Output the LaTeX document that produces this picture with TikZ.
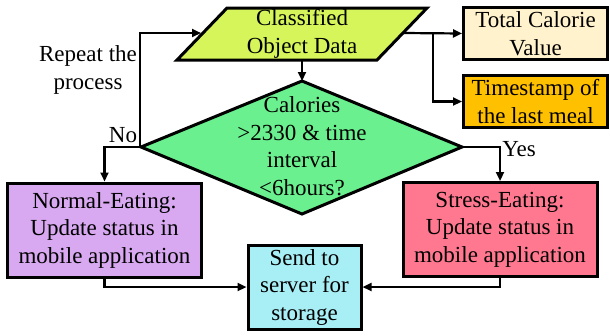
\documentclass[tikz,border=0pt]{standalone}
\usepackage{fontspec}
\setmainfont{Liberation Serif}
\usetikzlibrary{arrows.meta}
\definecolor{cLime}{RGB}{213,245,90}
\definecolor{cCream}{RGB}{255,242,204}
\definecolor{cOrange}{RGB}{255,192,0}
\definecolor{cGreen}{RGB}{106,240,142}
\definecolor{cLav}{RGB}{216,168,240}
\definecolor{cPink}{RGB}{255,120,144}
\definecolor{cCyan}{RGB}{168,238,245}
\tikzset{
  txt/.style={font=\fontsize{23}{27.5}\selectfont, align=center, inner sep=0pt},
  box/.style={txt, draw=black, line width=3pt, rectangle},
  shp/.style={draw=black, line width=3pt, line join=miter},
  conn/.style={line width=2.2pt, -{Triangle[length=9pt,width=8pt]}},
}
\begin{document}
\begin{tikzpicture}[x=1pt,y=-1pt]
\useasboundingbox (0,0) rectangle (610,335);
% parallelogram
\draw[shp, fill=cLime] (227,8) -- (427,8) -- (377,60) -- (177,60) -- cycle;
\node[txt] (cod) at (302,34) {Classified\\Object Data};
\coordinate (codS) at (302,60);
\coordinate (codE) at (403,33);
\coordinate (codW) at (201,33);
% diamond
\coordinate (dT) at (302,81);
\coordinate (dL) at (141,147);
\coordinate (dR) at (462,147);
\coordinate (dB) at (302,214);
\draw[shp, fill=cGreen] (dT) -- (dR) -- (dB) -- (dL) -- cycle;
\node[txt] (dec) at (302,146) {Calories\\>2330 \& time\\interval\\<6hours?};
% boxes
\node[box, fill=cCream, minimum width=144pt, minimum height=52pt] (tot) at (535.5,33.5) {Total Calorie\\Value};
\node[box, fill=cOrange, minimum width=144pt, minimum height=52pt] (ts) at (535.5,101.5) {Timestamp of\\the last meal};
\node[box, fill=cLav, minimum width=194pt, minimum height=94pt] (nrm) at (104.5,230) {Normal-Eating:\\Update status in\\mobile application};
\node[box, fill=cPink, minimum width=194pt, minimum height=94pt] (str) at (500,229.5) {Stress-Eating:\\Update status in\\mobile application};
\node[box, fill=cCyan, minimum width=113pt, minimum height=84pt] (snd) at (304.5,287) {Send to\\server for\\storage};
% labels
\node[txt] (rep) at (88,70) {Repeat the\\process};
\node[txt] (no) at (123,135) {No};
\node[txt] (yes) at (519,149) {Yes};
% connectors
\draw[conn] (codS) -- (dT);
\draw[conn] (codE) -- (tot.west);
\coordinate (br) at (433,33);
\draw[conn] (br) |- (ts.west);
\draw[conn] (dL) -| (nrm.north);
\coordinate (up) at (140,33);
\draw[conn] (dL) -- (dL -| up) -- (up) -- (codW);
\draw[conn] (dR) -| (str.north);
\draw[conn] (nrm.south) |- (snd.west);
\draw[conn] (str.south) |- (snd.east);
\end{tikzpicture}
\end{document}
